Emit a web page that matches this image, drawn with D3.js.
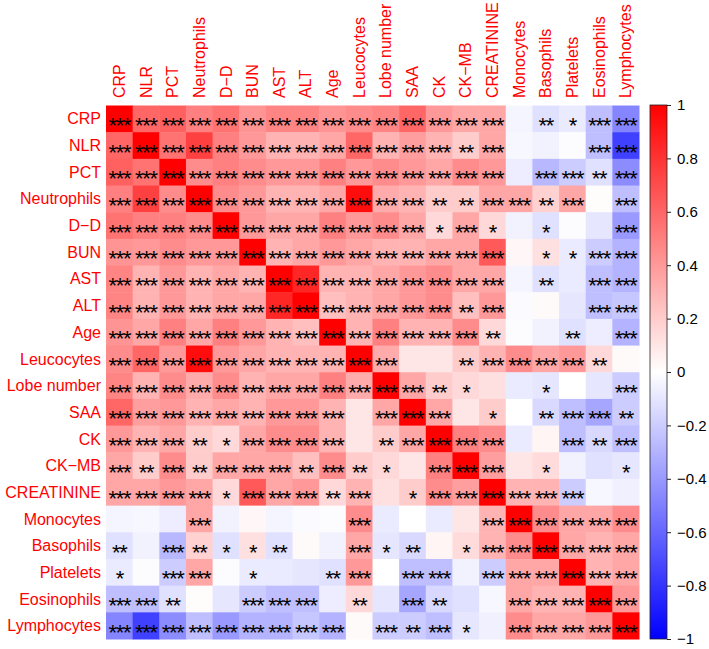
<!DOCTYPE html>
<html><head><meta charset="utf-8">
<script src="https://cdn.jsdelivr.net/npm/d3@7"></script>
<style>body{margin:0;background:#fff}svg{display:block}</style>
</head><body><svg id="c" width="709" height="649"></svg>
<script>
const variables = ["CRP","NLR","PCT","Neutrophils","D\u2212D","BUN","AST","ALT","Age","Leucocytes","Lobe number","SAA","CK","CK\u2212MB","CREATININE","Monocytes","Basophils","Platelets","Eosinophils","Lymphocytes"];

const corr = [
 [1,0.6,0.62,0.5,0.55,0.42,0.48,0.48,0.42,0.45,0.48,0.6,0.4,0.35,0.35,-0.04,-0.12,-0.08,-0.25,-0.48],
 [0.6,1,0.55,0.75,0.5,0.4,0.3,0.3,0.35,0.6,0.3,0.38,0.3,0.2,0.35,-0.03,-0.05,-0.01,-0.25,-0.75],
 [0.62,0.55,1,0.45,0.5,0.45,0.4,0.4,0.5,0.4,0.45,0.4,0.35,0.45,0.4,-0.07,-0.28,-0.2,-0.12,-0.45],
 [0.5,0.75,0.45,1,0.45,0.4,0.3,0.3,0.35,0.95,0.33,0.3,0.2,0.2,0.35,0.35,0.18,0.35,0.01,-0.25],
 [0.55,0.5,0.5,0.45,1,0.4,0.35,0.35,0.5,0.4,0.45,0.35,0.15,0.35,0.15,-0.05,-0.12,-0.01,-0.1,-0.4],
 [0.42,0.4,0.45,0.4,0.4,1,0.3,0.35,0.4,0.35,0.3,0.3,0.35,0.35,0.65,0.03,0.12,-0.08,-0.2,-0.3],
 [0.48,0.3,0.4,0.3,0.35,0.3,1,0.85,0.3,0.3,0.35,0.4,0.45,0.35,0.35,-0.04,-0.12,-0.08,-0.25,-0.3],
 [0.48,0.3,0.4,0.3,0.35,0.35,0.85,1,0.25,0.3,0.35,0.4,0.45,0.25,0.4,-0.02,0.02,-0.1,-0.25,-0.22],
 [0.42,0.35,0.5,0.35,0.5,0.4,0.3,0.25,1,0.3,0.5,0.3,0.3,0.45,0.15,-0.01,-0.05,-0.12,-0.07,-0.3],
 [0.45,0.6,0.4,0.95,0.4,0.35,0.3,0.3,0.3,1,0.33,0.1,0.1,0.2,0.3,0.45,0.35,0.4,0.15,0.02],
 [0.48,0.3,0.45,0.33,0.45,0.3,0.35,0.35,0.5,0.33,1,0.35,0.2,0.15,0.12,-0.08,-0.1,0,-0.1,-0.2],
 [0.6,0.38,0.4,0.3,0.35,0.3,0.4,0.4,0.3,0.1,0.35,1,0.35,0.1,0.2,0,-0.15,-0.25,-0.35,-0.2],
 [0.4,0.3,0.35,0.2,0.15,0.35,0.45,0.45,0.3,0.1,0.2,0.35,1,0.5,0.45,-0.08,0.04,-0.25,-0.15,-0.25],
 [0.35,0.2,0.45,0.2,0.35,0.35,0.35,0.25,0.45,0.2,0.15,0.1,0.5,1,0.38,0.1,0.14,-0.05,-0.12,-0.1],
 [0.35,0.35,0.4,0.35,0.15,0.65,0.35,0.4,0.15,0.3,0.12,0.2,0.45,0.38,1,0.3,0.3,-0.2,-0.03,-0.06],
 [-0.04,-0.03,-0.07,0.35,-0.05,0.03,-0.04,-0.02,-0.01,0.45,-0.08,0,-0.08,0.1,0.3,1,0.45,0.35,0.35,0.45],
 [-0.12,-0.05,-0.28,0.18,-0.12,0.12,-0.12,0.02,-0.05,0.35,-0.1,-0.15,0.04,0.14,0.3,0.45,1,0.35,0.3,0.35],
 [-0.08,-0.01,-0.2,0.35,-0.01,-0.08,-0.08,-0.1,-0.12,0.4,0,-0.25,-0.25,-0.05,-0.2,0.35,0.35,1,0.3,0.35],
 [-0.25,-0.25,-0.12,0.01,-0.1,-0.2,-0.25,-0.25,-0.07,0.15,-0.1,-0.35,-0.15,-0.12,-0.03,0.35,0.3,0.3,1,0.4],
 [-0.48,-0.75,-0.45,-0.25,-0.4,-0.3,-0.3,-0.22,-0.3,0.02,-0.2,-0.2,-0.25,-0.1,-0.06,0.45,0.35,0.35,0.4,1]
];

// number of significance stars per cell
const stars = [
 [3,3,3,3,3,3,3,3,3,3,3,3,3,3,3,0,2,1,3,3],
 [3,3,3,3,3,3,3,3,3,3,3,3,3,2,3,0,0,0,3,3],
 [3,3,3,3,3,3,3,3,3,3,3,3,3,3,3,0,3,3,2,3],
 [3,3,3,3,3,3,3,3,3,3,3,3,2,2,3,3,2,3,0,3],
 [3,3,3,3,3,3,3,3,3,3,3,3,1,3,1,0,1,0,0,3],
 [3,3,3,3,3,3,3,3,3,3,3,3,3,3,3,0,1,1,3,3],
 [3,3,3,3,3,3,3,3,3,3,3,3,3,3,3,0,2,0,3,3],
 [3,3,3,3,3,3,3,3,3,3,3,3,3,2,3,0,0,0,3,3],
 [3,3,3,3,3,3,3,3,3,3,3,3,3,3,2,0,0,2,0,3],
 [3,3,3,3,3,3,3,3,3,3,3,0,0,2,3,3,3,3,2,0],
 [3,3,3,3,3,3,3,3,3,3,3,3,2,1,0,0,1,0,0,3],
 [3,3,3,3,3,3,3,3,3,0,3,3,3,0,1,0,2,3,3,2],
 [3,3,3,2,1,3,3,3,3,0,2,3,3,3,3,0,0,3,2,3],
 [3,2,3,2,3,3,3,2,3,2,1,0,3,3,3,0,1,0,0,1],
 [3,3,3,3,1,3,3,3,2,3,0,1,3,3,3,3,3,3,0,0],
 [0,0,0,3,0,0,0,0,0,3,0,0,0,0,3,3,3,3,3,3],
 [2,0,3,2,1,1,2,0,0,3,1,2,0,1,3,3,3,3,3,3],
 [1,0,3,3,0,1,0,0,2,3,0,3,3,0,3,3,3,3,3,3],
 [3,3,2,0,0,3,3,3,0,2,0,3,2,0,0,3,3,3,3,3],
 [3,3,3,3,3,3,3,3,3,0,3,2,3,1,0,3,3,3,3,3]
];

const legendTicks = [1,0.8,0.6,0.4,0.2,0,-0.2,-0.4,-0.6,-0.8,-1];

const svg = d3.select("#c");
const font = "Liberation Sans, Arial, sans-serif";
const x = d3.scaleBand().domain(variables).range([106, 639]);
const y = d3.scaleBand().domain(variables).range([105.5, 639]);
const color = d3.scaleLinear().domain([-1,0,1]).range(["#0000FF","#FFFFFF","#FF0000"]);

const cells = [];
corr.forEach((row,i)=>row.forEach((v,j)=>cells.push({r:variables[i],c:variables[j],v,s:stars[i][j]})));

svg.append("g").selectAll("rect").data(cells).join("rect")
  .attr("x",d=>x(d.c)).attr("y",d=>y(d.r))
  .attr("width",x.bandwidth()+0.5).attr("height",y.bandwidth()+0.5)
  .attr("fill",d=>color(d.v));

svg.append("g").selectAll("text").data(cells.filter(d=>d.s>0)).join("text")
  .attr("x",d=>x(d.c)+x.bandwidth()/2)
  .attr("y",d=>y(d.r)+y.bandwidth()/2+14)
  .attr("text-anchor","middle")
  .attr("font-family",font).attr("font-size",22).attr("letter-spacing","-1.3px")
  .attr("fill","#000")
  .text(d=>"*".repeat(d.s));

// row labels
svg.append("g").selectAll("text").data(variables).join("text")
  .attr("x",101).attr("y",d=>y(d)+y.bandwidth()/2)
  .attr("dy","0.35em").attr("text-anchor","end")
  .attr("font-family",font).attr("font-size",16).attr("fill","#FF0000")
  .text(d=>d);

// column labels
svg.append("g").selectAll("text").data(variables).join("text")
  .attr("transform",d=>`translate(${x(d)+x.bandwidth()/2},98) rotate(-90)`)
  .attr("dy","0.35em").attr("text-anchor","start")
  .attr("font-family",font).attr("font-size",16).attr("fill","#FF0000")
  .text(d=>d);

// colour legend
const ly = d3.scaleLinear().domain([-1,1]).range([639,105]);
const defs = svg.append("defs");
const grad = defs.append("linearGradient").attr("id","g").attr("x1",0).attr("y1",1).attr("x2",0).attr("y2",0);
[-1,0,1].forEach(v=>grad.append("stop").attr("offset",(v+1)/2).attr("stop-color",color(v)));
svg.append("rect").attr("x",650).attr("y",ly(1)).attr("width",17).attr("height",ly(-1)-ly(1))
  .attr("fill","url(#g)").attr("stroke","#222").attr("stroke-width",0.8);
const ax = svg.append("g").attr("transform","translate(667,0)")
  .call(d3.axisRight(ly).tickValues(legendTicks).tickSize(4).tickPadding(6).tickFormat(d3.format("")));
ax.select(".domain").remove();
ax.selectAll("text").attr("font-family",font).attr("font-size",15).attr("fill","#000");
ax.selectAll("line").attr("stroke","#222");
</script></body></html>
